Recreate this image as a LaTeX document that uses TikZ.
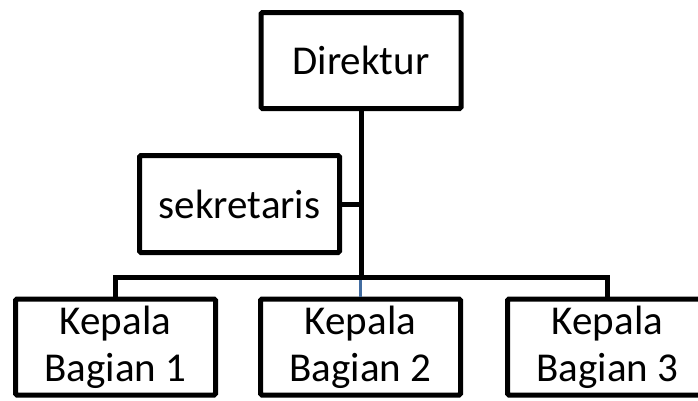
\documentclass[tikz,border=0pt]{standalone}
\usepackage{fontspec}
\setmainfont{Carlito}
\usepackage{xcolor}
\usepackage{tikz}
\definecolor{linkblue}{RGB}{66,108,160}

\begin{document}
\begin{tikzpicture}[x=1pt, y=-1pt]
	\tikzstyle{every node}=[font=\fontsize{41}{47}\selectfont];
	\tikzstyle{jabatan}=[draw, line width=5pt, rounded corners=1.5pt, minimum width=200pt, minimum height=96pt, align=center, inner sep=0pt];
	\tikzstyle{garis}=[line width=5pt];

	%Frame
	\clip (0, 0) rectangle (698, 400);

	%Boxes
	\node[jabatan] (direktur) at (361, 60.5) {Direktur};
	\node[jabatan, minimum height=97pt] (sekretaris) at (239.5, 204) {sekretaris};
	\node[jabatan] (kabag1) at (115.5, 347) {Kepala\\Bagian 1};
	\node[jabatan] (kabag2) at (360.5, 347) {Kepala\\Bagian 2};
	\node[jabatan] (kabag3) at (607.5, 347) {Kepala\\Bagian 3};
	\coordinate (bar) at (361, 277);

	%Lines
	\draw[linkblue, line width=2.5pt] (bar -| kabag2.north) -- (kabag2.north);
	\draw[garis] (direktur.south) -- (direktur.south |- bar);
	\draw[garis] (sekretaris.east) -- (sekretaris.east -| direktur.south);
	\draw[garis] (kabag1.north) -- (kabag1.north |- bar) -| (kabag3.north);
\end{tikzpicture}
\end{document}
